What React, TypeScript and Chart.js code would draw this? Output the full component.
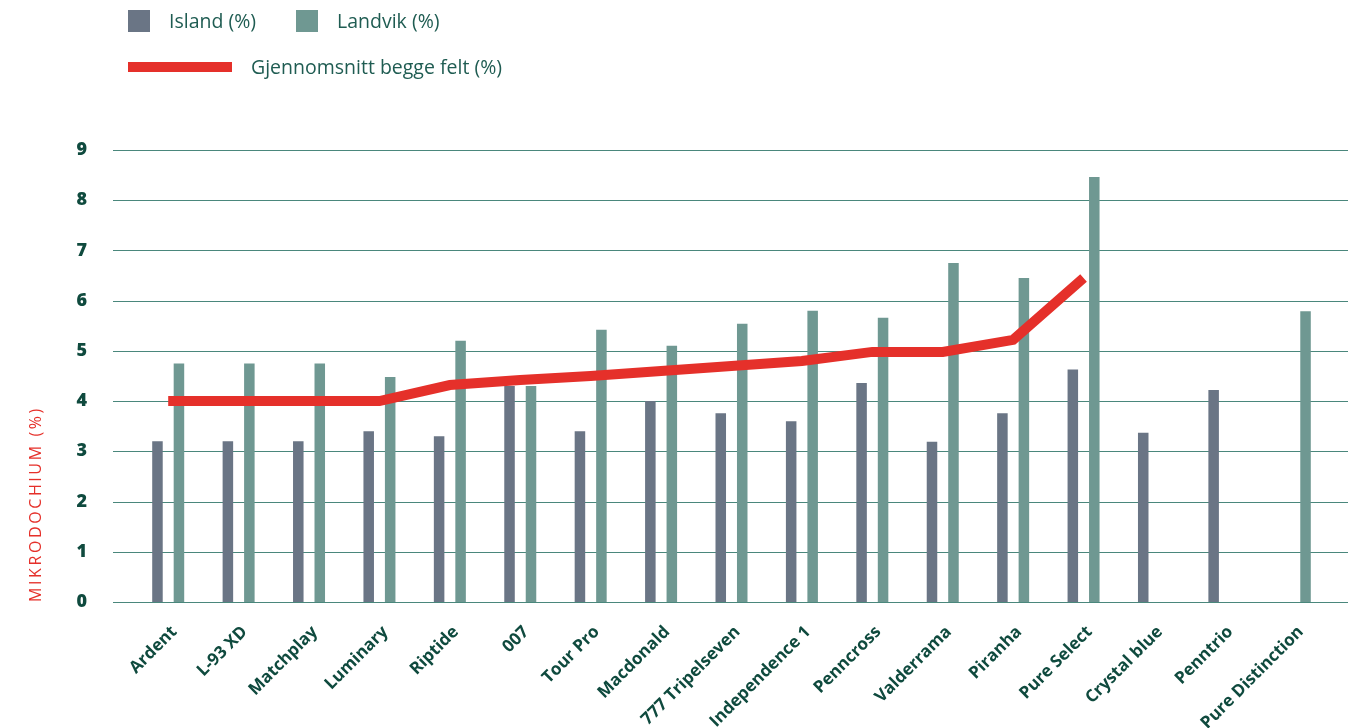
import React, { useEffect, useRef } from "react";
import { Chart, registerables } from "chart.js";
Chart.register(...registerables);

const categories = [
  "Ardent", "L-93 XD", "Matchplay", "Luminary", "Riptide", "007", "Tour Pro",
  "Macdonald", "777 Tripelseven", "Independence 1", "Penncross", "Valderrama",
  "Piranha", "Pure Select", "Crystal blue", "Penntrio", "Pure Distinction",
];
const islandValues = [3.2, 3.2, 3.2, 3.4, 3.3, 4.3, 3.4, 4.0, 3.76, 3.6, 4.36, 3.19, 3.76, 4.63, 3.37, 4.22, null];
const landvikValues = [4.75, 4.75, 4.75, 4.48, 5.2, 4.3, 5.42, 5.1, 5.54, 5.8, 5.66, 6.75, 6.45, 8.46, null, null, 5.79];
const averageValues = [4.0, 4.0, 4.0, 4.0, 4.32, 4.42, 4.5, 4.6, 4.7, 4.8, 4.98, 4.98, 5.22, 6.45, null, null, null];
const yMin = 0;
const yMax = 9;
const yTitle = "MIKRODOCHIUM (%)";

const ISLAND = "#6a7585";
const LANDVIK = "#6f9892";
const RED = "#e5302a";
const TEXT = "#0f4a3e";
const LEGEND_TEXT = "#1f5c52";
const GRID = "#4a877c";
const FONT = "'Open Sans', sans-serif";

const gridPlugin = {
  id: "wideGrid",
  beforeDatasetsDraw(chart: any) {
    const { ctx, scales } = chart;
    const y = scales.y;
    ctx.save();
    ctx.strokeStyle = GRID;
    ctx.lineWidth = 1.2;
    y.ticks.forEach((t: any) => {
      const py = Math.round(y.getPixelForValue(t.value)) + 0.5;
      ctx.beginPath();
      ctx.moveTo(113, py);
      ctx.lineTo(1348, py);
      ctx.stroke();
    });
    ctx.restore();
  },
};

const titlePlugin = {
  id: "spacedTitle",
  afterDraw(chart: any) {
    const { ctx, chartArea } = chart;
    ctx.save();
    ctx.translate(36, chartArea.bottom);
    ctx.rotate(-Math.PI / 2);
    ctx.font = `400 16px ${FONT}`;
    (ctx as any).letterSpacing = "2.6px";
    ctx.fillStyle = RED;
    ctx.textAlign = "left";
    ctx.textBaseline = "middle";
    ctx.fillText(yTitle, 0, 0);
    ctx.restore();
  },
};

export default function App() {
  const ref = useRef<HTMLCanvasElement | null>(null);
  useEffect(() => {
    document.body.style.margin = "0";
    const chart = new Chart(ref.current as HTMLCanvasElement, {
      type: "bar",
      data: {
        labels: categories,
        datasets: [
          {
            type: "line",
            label: "Gjennomsnitt begge felt (%)",
            data: averageValues,
            borderColor: RED,
            backgroundColor: RED,
            borderWidth: 10,
            pointRadius: 0,
            tension: 0,
            borderCapStyle: "butt",
            borderJoinStyle: "miter",
            order: 0,
          } as any,
          {
            label: "Island (%)",
            data: islandValues,
            backgroundColor: ISLAND,
            categoryPercentage: 0.61,
            barPercentage: 0.49,
            order: 1,
          },
          {
            label: "Landvik (%)",
            data: landvikValues,
            backgroundColor: LANDVIK,
            categoryPercentage: 0.61,
            barPercentage: 0.49,
            order: 1,
          },
        ],
      },
      options: {
        responsive: false,
        animation: false,
        events: [],
        layout: { padding: { left: 0, right: 37, top: 150, bottom: 0 } },
        plugins: { legend: { display: false }, tooltip: { enabled: false } },
        scales: {
          x: {
            offset: true,
            grid: { display: false, drawTicks: false },
            border: { display: false },
            ticks: {
              color: TEXT,
              font: { family: FONT, size: 17, weight: "bold" },
              minRotation: 45,
              maxRotation: 45,
              autoSkip: false,
              padding: 20,
              labelOffset: 6,
            },
            afterFit: (s: any) => { s.height = 126; },
          },
          y: {
            min: yMin,
            max: yMax,
            grid: { display: false, drawTicks: false },
            border: { display: false },
            ticks: {
              stepSize: 1,
              color: TEXT,
              font: { family: FONT, size: 18, weight: "800" },
              padding: 46,
            },
            title: { display: false },
            afterFit: (s: any) => { s.width = 133; },
          },
        },
      } as any,
      plugins: [gridPlugin, titlePlugin],
    });
    return () => chart.destroy();
  }, []);

  const txt: React.CSSProperties = {
    position: "absolute",
    fontFamily: FONT,
    fontSize: 19.5,
    color: LEGEND_TEXT,
    lineHeight: "24px",
    whiteSpace: "nowrap",
  };
  return (
    <div style={{ position: "absolute", left: 0, top: 0, width: 1367, height: 728, background: "#fff" }}>
      <canvas ref={ref} width={1367} height={728} style={{ display: "block" }} />
      <div style={{ position: "absolute", left: 128, top: 10, width: 22, height: 22, background: ISLAND }} />
      <div style={{ ...txt, left: 169, top: 9 }}>Island (%)</div>
      <div style={{ position: "absolute", left: 296, top: 10, width: 22, height: 22, background: LANDVIK }} />
      <div style={{ ...txt, left: 337, top: 9 }}>Landvik (%)</div>
      <div style={{ position: "absolute", left: 128, top: 62, width: 104, height: 10, background: RED }} />
      <div style={{ ...txt, left: 251, top: 55 }}>Gjennomsnitt begge felt (%)</div>
    </div>
  );
}
